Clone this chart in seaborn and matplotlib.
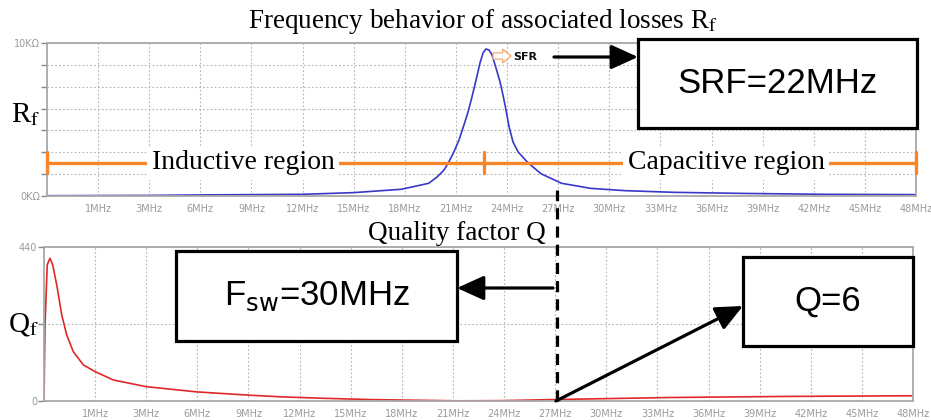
import matplotlib
matplotlib.use('Agg')
import matplotlib.pyplot as plt
import seaborn as sns
import pandas as pd
from matplotlib.patches import Rectangle, FancyArrowPatch
from matplotlib.lines import Line2D

# values (x in MHz as laid out on the axis)
rf_freq = [-3.0, 3.0, 6.0, 9.0, 12.0, 15.0, 17.8, 19.4, 19.9, 20.3, 20.55, 20.88, 21.18,
           21.47, 21.71, 21.94, 22.18, 22.41, 22.59, 22.76, 22.94, 23.12, 23.35, 23.59,
           23.76, 23.94, 24.12, 24.35, 24.65, 25.24, 26.0, 27.2, 28.9, 30.9, 33.8, 37.8,
           42.6, 48.0]
rf_kohm = [0.02, 0.04, 0.07, 0.09, 0.11, 0.22, 0.44, 0.83, 1.25, 1.7, 2.16, 2.88, 3.66,
           4.64, 5.49, 6.47, 7.58, 8.69, 9.35, 9.61, 9.54, 9.22, 8.37, 7.45,
           6.6, 5.62, 4.51, 3.53, 2.88, 2.16, 1.45, 0.83, 0.5, 0.35, 0.24, 0.17,
           0.11, 0.09]

q_freq = [-3.0, -2.94, -2.81, -2.65, -2.49, -2.25, -1.96, -1.67, -1.28, -0.69, 0.0, 1.07,
          2.99, 5.97, 8.91, 10.87, 13.2, 16.2, 21.3, 23.8, 27.9, 33.8, 40.4, 48.0]
q_vals = [0, 217, 389, 408, 389, 331, 246, 189, 141, 103, 84, 60,
          41, 26, 17, 12, 8, 4, 0.5, 1, 5, 10, 13, 15]

tick_pos = list(range(0, 49, 3))
tick_labels = ['1MHz'] + [f'{v}MHz' for v in range(3, 49, 3)]

W, H = 931, 420

def fx(x):
    return x / W

def fy(y):
    return 1 - y / H

sns.set_style('white')
plt.rcParams['font.family'] = ['DejaVu Sans']
plt.rcParams['text.color'] = 'black'

fig = plt.figure(figsize=(9.31, 4.2), dpi=100)
ax1 = fig.add_axes([fx(47), fy(196), (916 - 47) / W, (196 - 43) / H])
ax2 = fig.add_axes([fx(44), fy(401), (913 - 44) / W, (401 - 247) / H])

rf = pd.DataFrame({'f': rf_freq, 'r': rf_kohm})
qf = pd.DataFrame({'f': q_freq, 'q': q_vals})
sns.lineplot(data=rf, x='f', y='r', ax=ax1, color='#3838c8', lw=1.2, zorder=2)
sns.lineplot(data=qf, x='f', y='q', ax=ax2, color='#e02828', lw=1.2, zorder=2)

grey = '#a8a8a8'
for ax in (ax1, ax2):
    ax.set_xlim(-3, 48)
    ax.set_xticks(tick_pos)
    ax.set_xticklabels(tick_labels)
    ax.set_xlabel('')
    ax.set_ylabel('')
    ax.grid(True, ls=(0, (1.5, 2)), color='#b4b4b4', lw=0.8)
    for s in ax.spines.values():
        s.set_color(grey)
        s.set_linewidth(1.3)
    ax.tick_params(axis='x', length=0, pad=6, labelsize=7, labelcolor='#9a9a9a')
    ax.tick_params(axis='y', length=4, width=1, color='#888888', pad=1,
                   labelsize=7, labelcolor='#9a9a9a', left=True)

ax1.set_ylim(0, 10)
yt = [i * 10 / 7 for i in range(8)]
ax1.set_yticks(yt)
ax1.set_yticklabels(['0KΩ'] + [''] * 6 + ['10KΩ'])
ax2.set_ylim(0, 440)
ax2.set_yticks([0, 220, 440])
ax2.set_yticklabels(['0', '', '440'])

# region bracket (orange)
orange = '#f7862a'
ax1.plot([-3, 48], [2.16, 2.16], color=orange, lw=2.4, zorder=3, clip_on=False)
for xv in (-3, 48, 22.65):
    ax1.plot([xv, xv], [1.5, 2.85], color=orange, lw=2.4, zorder=3, clip_on=False)
ax1.text(8.5, 2.16, 'Inductive region', family='Liberation Serif', fontsize=20,
         ha='center', va='center', zorder=4,
         bbox=dict(fc='white', ec='none', pad=3))
ax1.text(36.85, 2.16, 'Capacitive region', family='Liberation Serif', fontsize=20,
         ha='center', va='center', zorder=4,
         bbox=dict(fc='white', ec='none', pad=3))

# titles and axis names
fig.text(fx(483), fy(22), r'Frequency behavior of associated losses R$_{\mathrm{f}}$',
         family='Liberation Serif', math_fontfamily='stix', fontsize=19.5,
         ha='center', va='center')
fig.text(fx(457), fy(233), 'Quality factor Q', family='Liberation Serif',
         fontsize=19.5, ha='center', va='center')
fig.text(fx(11), fy(115), r'R$_{\mathrm{f}}$', family='Liberation Serif',
         math_fontfamily='stix', fontsize=21, ha='left', va='center')
fig.text(fx(8), fy(325), r'Q$_{\mathrm{f}}$', family='Liberation Serif',
         math_fontfamily='stix', fontsize=21, ha='left', va='center')

# SFR marker: hollow orange arrow + label
fig.add_artist(FancyArrowPatch((fx(493), fy(56)), (fx(511), fy(56)),
                               transform=fig.transFigure,
                               arrowstyle='simple,head_length=0.6,head_width=1.0,tail_width=0.45',
                               mutation_scale=10, fc='white', ec='#eea870', lw=0.9,
                               shrinkA=0, shrinkB=0, zorder=4))
fig.text(fx(513), fy(57), 'SFR', fontsize=8, fontweight='bold', ha='left',
         va='center', color='#111111')

# boxes
def box(x0, y0, x1, y1, label, size=25):
    fig.add_artist(Rectangle((fx(x0), fy(y1)), fx(x1) - fx(x0), fy(y0) - fy(y1),
                             transform=fig.transFigure, fc='white', ec='black',
                             lw=2.3, zorder=5))
    fig.text((fx(x0) + fx(x1)) / 2, (fy(y0) + fy(y1)) / 2, label,
             family='Liberation Sans', math_fontfamily='dejavusans', fontsize=size,
             ha='center', va='center', zorder=6, color='black')

box(638, 39, 917, 128, 'SRF=22MHz')
box(176, 251, 457, 341, r'F$_{\mathrm{sw}}$=30MHz')
box(743, 257, 913, 346, 'Q=6')

def arrow(x0, y0, x1, y1):
    fig.add_artist(FancyArrowPatch((fx(x0), fy(y0)), (fx(x1), fy(y1)),
                                   transform=fig.transFigure,
                                   arrowstyle='-|>,head_length=1.1,head_width=0.5',
                                   mutation_scale=15, color='black', lw=2.3,
                                   shrinkA=0, shrinkB=0, zorder=7))

arrow(554, 57, 638, 57)
arrow(553, 288, 457, 288)
arrow(556, 401, 743, 306)

# dashed marker at 27 MHz
fig.add_artist(Line2D([fx(557), fx(557)], [fy(401), fy(190)], transform=fig.transFigure,
                      color='black', lw=2.3, ls=(0, (3.5, 2.2)), zorder=7))

fig.savefig('out.png', dpi=100)
